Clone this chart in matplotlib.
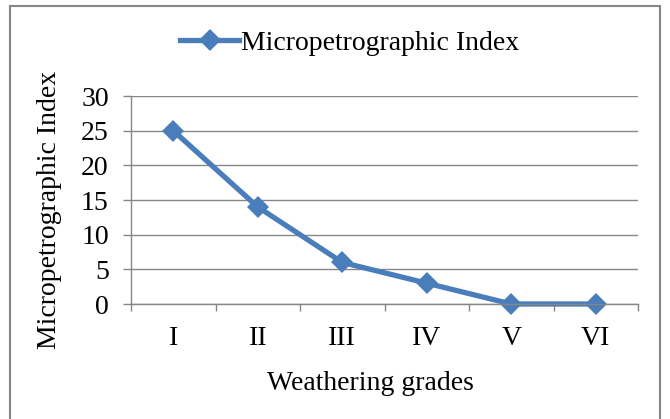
import matplotlib.pyplot as plt
from matplotlib.patches import Rectangle
from matplotlib.ticker import FixedLocator

grades = ["I", "II", "III", "IV", "V", "VI"]
mp_index = [25, 14, 6, 3, 0, 0]
y_ticks = [0, 5, 10, 15, 20, 25, 30]

line_color = "#4A7EBB"
grid_color = "#868686"

plt.rcParams["font.family"] = ["Liberation Serif", "DejaVu Serif"]

W, H = 670, 419
fs = 20
fig = plt.figure(figsize=(W / 100, H / 100), dpi=100)
ax = fig.add_axes([131 / W, 1 - 304 / H, (638 - 131) / W, (304 - 96) / H])

x = list(range(len(grades)))
ax.plot(x, mp_index, color=line_color, lw=3.8, marker="D", ms=11,
        markeredgewidth=0, label="Micropetrographic Index", clip_on=False)

ax.set_xlim(-0.5, len(grades) - 0.5)
ax.set_ylim(0, 30)
ax.set_yticks(y_ticks)
ax.set_xticks(x)
ax.set_xticklabels(grades)
ax.xaxis.set_minor_locator(FixedLocator([i - 0.5 for i in range(len(grades) + 1)]))

ax.yaxis.grid(True, color=grid_color, lw=1)
ax.set_axisbelow(True)
for s in ["top", "right"]:
    ax.spines[s].set_visible(False)
for s in ["left", "bottom"]:
    ax.spines[s].set_color(grid_color)
    ax.spines[s].set_linewidth(1)

ax.tick_params(axis="y", length=5.5, width=1, color=grid_color, pad=10.5, labelsize=fs)
ax.tick_params(axis="x", which="major", length=0, pad=15.5, labelsize=fs)
ax.tick_params(axis="x", which="minor", length=5, width=1, color=grid_color)

ax.set_ylabel("Micropetrographic Index", fontsize=fs)
ax.yaxis.set_label_coords(62 / W, 0.5, transform=fig.transFigure)
ax.set_xlabel("Weathering grades", fontsize=fs)
ax.xaxis.set_label_coords(370 / W, 1 - 383 / H, transform=fig.transFigure)
ax.xaxis.label.set_va("center")
ax.yaxis.label.set_ha("center")

fig.legend(loc="center", bbox_to_anchor=(350 / W, 1 - 43 / H), frameon=False,
           fontsize=fs, handlelength=2.1, handletextpad=0.1)

fig.patches.append(Rectangle((10 / W, -0.1), 650 / W, 1.1 - 6 / H, transform=fig.transFigure,
                             fill=False, edgecolor=grid_color, lw=1.5))

fig.savefig("out.png", dpi=100)
